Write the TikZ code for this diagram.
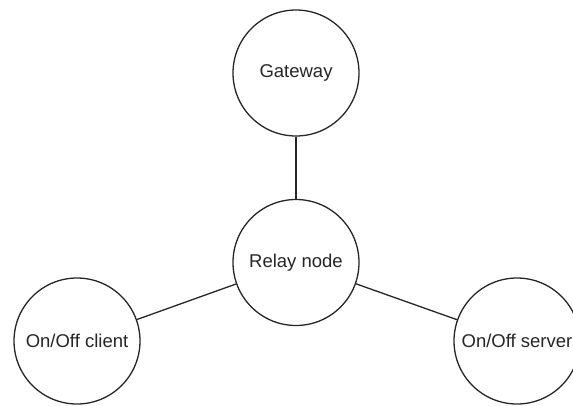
\documentclass[tikz,border=0pt]{standalone}
\usepackage{fontspec}
\setmainfont{Liberation Sans}
\begin{document}
\begin{tikzpicture}[x=1pt,y=-1pt,
  peer/.style={circle,draw=black!85,line width=1.3pt,fill=white,minimum size=126pt,inner sep=0pt,
    font=\fontsize{18.5}{22}\selectfont,text=black!85},
  link/.style={draw=black!85,line width=1.3pt}]
  \useasboundingbox (0,0) rectangle (573,405);
  \node[peer] (gw) at (296,73) {Gateway};
  \node[peer] (relay) at (296,262.5) {Relay node};
  \node[peer] (client) at (77,341) {On/Off client};
  \node[peer] (server) at (517,341) {On/Off server};
  \draw[link] (gw) -- (relay);
  \draw[link] (relay) -- (client);
  \draw[link] (relay) -- (server);
\end{tikzpicture}
\end{document}
